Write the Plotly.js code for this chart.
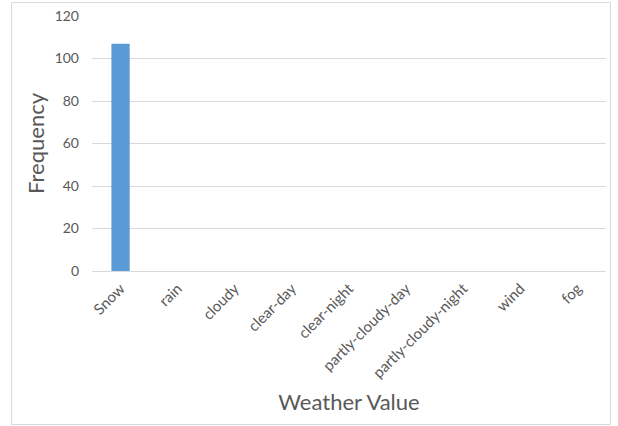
<!DOCTYPE html>
<html>
<head>
<meta charset="utf-8">
<script src="https://cdn.plot.ly/plotly-3.0.1.min.js"></script>
<style>html,body{margin:0;padding:0;background:#fff;}#chart{width:618px;height:426px;}</style>
</head>
<body>
<div id="chart"></div>
<script>
const categories = ["Snow", "rain", "cloudy", "clear-day", "clear-night", "partly-cloudy-day", "partly-cloudy-night", "wind", "fog"];
const frequency = [107, 0, 0, 0, 0, 0, 0, 0, 0];
const yTicks = [0, 20, 40, 60, 80, 100, 120];

const W = 618, H = 426;
const m = {l: 92, r: 12, t: 16, b: 155};
const pw = W - m.l - m.r, ph = H - m.t - m.b;
function px(x){ return (x - m.l) / pw; }
function py(y){ return (H - m.b - y) / ph; }

const font = "Lato, 'Open Sans', sans-serif";
const grey = "#595959";

Plotly.newPlot("chart", [{
  type: "bar",
  x: categories,
  y: frequency,
  marker: {color: "#5b9bd5"},
  hoverinfo: "x+y"
}], {
  width: W, height: H,
  margin: m,
  paper_bgcolor: "#fff",
  plot_bgcolor: "#fff",
  bargap: 0.68,
  showlegend: false,
  font: {family: font, color: grey, size: 13},
  xaxis: {
    type: "category",
    tickangle: -45,
    tickfont: {size: 15, color: grey},
    showline: true, linecolor: "#d9d9d9", linewidth: 1,
    showgrid: false, ticks: "", ticklabelstandoff: 2,
    title: {text: "Weather Value", font: {size: 22, color: grey}, standoff: 14}
  },
  yaxis: {
    range: [0, 120],
    tickvals: yTicks,
    tickfont: {size: 14, color: grey},
    showgrid: true, gridcolor: "#d9d9d9", gridwidth: 1,
    zeroline: false, showline: false, ticks: "", ticklabelstandoff: 12,
    title: {text: "Frequency", font: {size: 22, color: grey}, standoff: 3}
  },
  shapes: [{
    type: "rect", xref: "paper", yref: "paper",
    x0: px(11.5), x1: px(610.5), y0: py(2.5), y1: py(424.5),
    line: {color: "#d9d9d9", width: 1}, fillcolor: "rgba(0,0,0,0)", layer: "below"
  }]
}, {staticPlot: true});
</script>
</body>
</html>
